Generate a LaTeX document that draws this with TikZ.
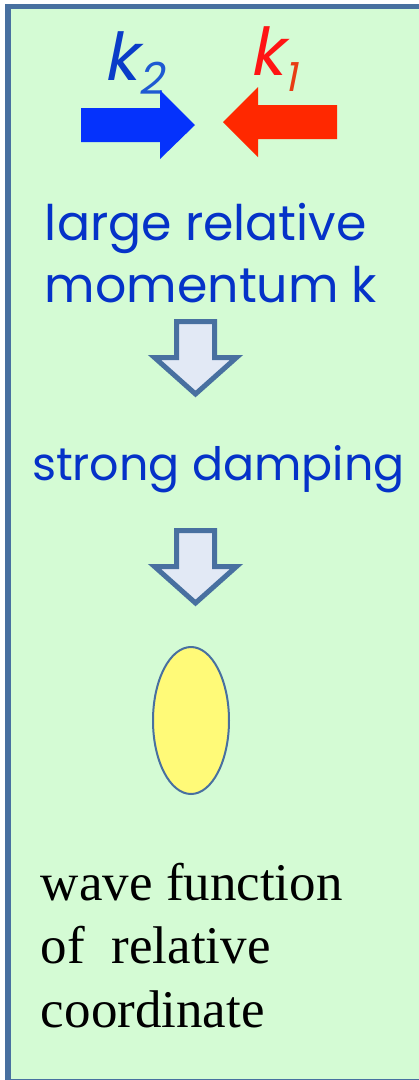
\documentclass[tikz,border=0pt]{standalone}
\usepackage{fontspec}
\setmainfont{Liberation Serif}
\newfontfamily\comicfont{Poppins}
\newfontfamily\comicslant[FakeSlant=0.2]{Poppins}
\usetikzlibrary{shapes.geometric, positioning}
\definecolor{panelGreen}{RGB}{212,251,212}
\definecolor{panelBorder}{RGB}{72,112,160}
\definecolor{beamBlue}{RGB}{5,50,252}
\definecolor{beamRed}{RGB}{255,40,0}
\definecolor{textBlue}{RGB}{5,50,200}
\definecolor{kBlue}{RGB}{10,60,200}
\definecolor{subBlue}{RGB}{30,90,210}
\definecolor{kRed}{RGB}{255,20,20}
\definecolor{subRed}{RGB}{232,60,20}
\definecolor{arrowFill}{RGB}{226,233,245}
\definecolor{blobYellow}{RGB}{255,250,120}

\begin{document}
\begin{tikzpicture}[
    x=1pt, y=-1pt,
    every node/.style={inner sep=0pt, outer sep=0pt},
    comic-text/.style={font=\comicfont\fontsize{#1}{62}\selectfont, text=textBlue, anchor=base west, align=left},
    comic-text/.default=47,
    k-label/.style={font=\comicslant\fontsize{66}{70}\selectfont, anchor=base west},
    serif-text/.style={font=\fontsize{53}{63.5}\selectfont, anchor=base west, align=left},
    beam/.style={line join=miter},
    block-arrow/.style={draw=panelBorder, fill=arrowFill, line width=5pt, line join=miter},
    blob/.style={ellipse, draw=panelBorder, fill=blobYellow, line width=2pt, minimum width=76pt, minimum height=147pt}
]
    \useasboundingbox (0,0) rectangle (419,1080);

    % Panel: thick border on the left and top, cut off on the right and bottom.
    \draw[fill=panelGreen, draw=panelBorder, line width=5.5pt] (8,6.5) rectangle (422.5,1082);

    % Incoming momenta.
    \node[k-label, text=kBlue] (k-two) at (103,80) {k\kern2pt\raisebox{-14pt}{\fontsize{44}{44}\selectfont\color{subBlue}2}};
    \node[k-label, text=kRed] (k-one) at (249,75) {k\kern2pt\raisebox{-16pt}{\fontsize{40}{40}\selectfont\color{subRed}1}};
    \coordinate (beam-two) at (81,125);
    \coordinate (beam-one) at (337,122);
    \fill[beamBlue, beam] (beam-two) ++(0,-17) -- ++(79,0) -- ++(0,-18) -- ++(35,35)
        -- ++(-35,34) -- ++(0,-17) -- ++(-79,0) -- cycle;
    \fill[beamRed, beam] (beam-one) ++(0,-17) -- ++(-79,0) -- ++(0,-18) -- ++(-35,35)
        -- ++(35,35) -- ++(0,-18) -- ++(79,0) -- cycle;

    % Text column (base anchor sits on the last line).
    \node[comic-text=49] (momentum-text) at (45,302) {large relative\\momentum k};
    \node[comic-text=46] (damping-text) at (32,480) {strong damping};

    % Block arrows between the stages.
    \foreach \name/\ytop in {first-arrow/321.5, second-arrow/530.5}{
        \coordinate (\name) at (195.5,\ytop);
        \draw[block-arrow] (\name) ++(-19,0) -- ++(38,0) -- ++(0,36) -- ++(22,0)
            -- ++(-41,36.5) -- ++(-41,-36.5) -- ++(22,0) -- cycle;
    }

    % Bound pair.
    \node[blob] (wave-blob) at (191,720.5) {};
    \node[serif-text] (wave-text) at (41,1027) {wave function\\of\ \ relative\\coordinate};
\end{tikzpicture}
\end{document}
